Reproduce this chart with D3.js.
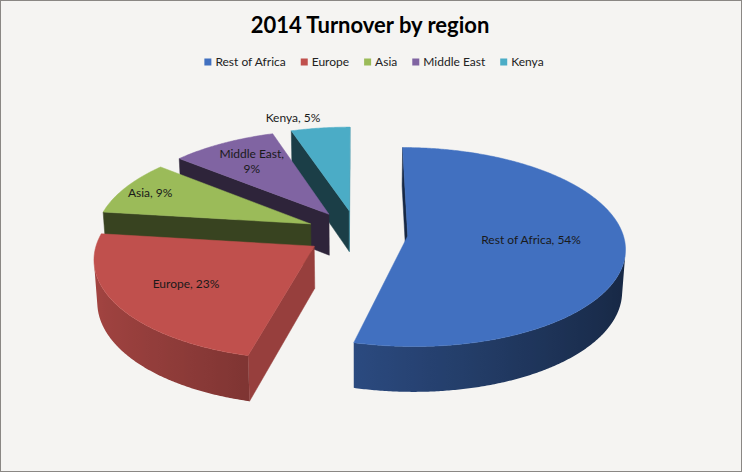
<!DOCTYPE html>
<html>
<head>
<meta charset="utf-8">
<script src="https://cdn.jsdelivr.net/npm/d3@7"></script>
<style>
  body { margin: 0; background: #ffffff; }
  text { font-family: Lato, "Open Sans", sans-serif; }
</style>
</head>
<body>
<div id="chart"></div>
<script>
// data
const regions = ["Rest of Africa", "Europe", "Asia", "Middle East", "Kenya"];
const shares = [54, 23, 9, 9, 5];
const colors = ["#4170c0", "#c0504d", "#9bbb59", "#8064a2", "#4bacc6"];
const title = "2014 Turnover by region";

// label placement: [radius along mid angle, dx, dy]
const labelAt = {
    "Rest of Africa": [0.57, 0, -3],
    "Europe": [0.68, 2, -3],
    "Asia": [0.84, -4, 0],
    "Middle East": [0.71, 0, -1],
    "Kenya": [1.25, -21, 8]
};
const wrapLabels = ["Middle East"];

const width = 744, height = 474;

const svg = d3.select("#chart").append("svg")
    .attr("width", width)
    .attr("height", height);
const defs = svg.append("defs");

svg.append("rect")
    .attr("x", 0.5).attr("y", 0.5)
    .attr("width", 741).attr("height", 471)
    .attr("fill", "#f5f4f2")
    .attr("stroke", "#8a8784")
    .attr("stroke-width", 1);

svg.append("text")
    .attr("x", 370).attr("y", 33)
    .attr("text-anchor", "middle")
    .attr("font-size", 22)
    .attr("font-weight", "bold")
    .attr("fill", "#000")
    .text(title);

// legend
let legend = svg.append("g");
let lx = 0;
regions.forEach((r, i) => {
    let g = legend.append("g").attr("transform", `translate(${lx},0)`);
    g.append("rect").attr("x", 0).attr("y", -7.5).attr("width", 7).attr("height", 7)
        .attr("fill", colors[i]);
    let t = g.append("text").attr("x", 11).attr("y", 0)
        .attr("font-size", 12).attr("fill", "#222").text(r);
    lx += 11 + t.node().getComputedTextLength() + 15;
});
lx -= 15;
legend.attr("transform", `translate(${374 - lx / 2},66)`);

// 3d projection
const alpha = 27 * Math.PI / 180, D = 8, F = 1720, cx = 357, cy = 233;
const R = 1, H = 0.22, explode = 0.237;
const camY = D * Math.sin(alpha), camZ = D * Math.cos(alpha);

function project(p) {
    let vy = p[1] - camY, vz = p[2] - camZ;
    let yc = vy * Math.cos(alpha) - vz * Math.sin(alpha);
    let zc = -vy * Math.sin(alpha) - vz * Math.cos(alpha);
    return [cx + F * p[0] / zc, cy - F * yc / zc, zc];
}
function facing(n, p) {
    return n[0] * (0 - p[0]) + n[1] * (camY - p[1]) + n[2] * (camZ - p[2]) > 0;
}
function shade(c, f) {
    let k = d3.rgb(c);
    return d3.rgb(k.r * f, k.g * f, k.b * f).formatHex();
}
const sideLight = t => Math.max(0.3, Math.min(0.9, 0.6 - 0.25 * Math.sin(t)));

const pie = d3.pie().sort(null).value(d => d);
const arcs = pie(shares);
const line = d3.line();
const xy = q => [q[0], q[1]];

let slices = arcs.map((a, i) => {
    let mid = (a.startAngle + a.endAngle) / 2;
    let o = [explode * Math.sin(mid), 0, -explode * Math.cos(mid)];
    let rim = (t, y) => [o[0] + R * Math.sin(t), y, o[2] - R * Math.cos(t)];
    let apex = y => [o[0], y, o[2]];
    let depth = project([o[0] + 0.5 * Math.sin(mid), 0, o[2] - 0.5 * Math.cos(mid)])[2];
    return {i, a, mid, o, rim, apex, depth};
});
slices.sort((s, t) => t.depth - s.depth);

const pieG = svg.append("g");
const step = Math.PI / 360;

slices.forEach(s => {
    let g = pieG.append("g");
    let c = colors[s.i];
    let t0 = s.a.startAngle, t1 = s.a.endAngle;
    let n = Math.max(2, Math.ceil((t1 - t0) / step));
    let ang = d3.range(n + 1).map(k => t0 + (t1 - t0) * k / n);

    // radial faces
    [[t0, -1], [t1, 1]].forEach(([t, sg]) => {
        let nrm = [sg * Math.cos(t), 0, sg * Math.sin(t)];
        if (!facing(nrm, s.rim(t, 0))) return;
        let f = 0.36 + 0.44 * Math.max(0, nrm[0]);
        let pts = [s.apex(0), s.rim(t, 0), s.rim(t, -H), s.apex(-H)].map(project);
        g.append("path").attr("d", line(pts.map(xy)) + "Z")
            .attr("fill", shade(c, f)).attr("stroke", shade(c, f)).attr("stroke-width", 0.5);
    });

    // outer curved side, visible part, one shape with a horizontal gradient
    let vis = ang.filter(t => facing([Math.sin(t), 0, -Math.cos(t)], s.rim(t, -H / 2)));
    if (vis.length > 1) {
        let topPts = vis.map(t => project(s.rim(t, 0)));
        let botPts = vis.map(t => project(s.rim(t, -H))).reverse();
        let xs = topPts.map(q => q[0]);
        let x0 = d3.min(xs), x1 = d3.max(xs);
        let gid = "side" + s.i;
        let grad = defs.append("linearGradient").attr("id", gid)
            .attr("gradientUnits", "userSpaceOnUse")
            .attr("x1", x0).attr("x2", x1).attr("y1", 0).attr("y2", 0);
        let stops = vis.map((t, k) => ({off: (xs[k] - x0) / (x1 - x0 || 1), col: shade(c, sideLight(t))}))
            .sort((a, b) => a.off - b.off);
        stops.filter((d, k) => k % 4 === 0 || k === stops.length - 1).forEach(d => {
            grad.append("stop").attr("offset", d.off).attr("stop-color", d.col);
        });
        g.append("path").attr("d", line(topPts.concat(botPts).map(xy)) + "Z")
            .attr("fill", `url(#${gid})`);
    }

    // top face
    let top = [s.apex(0)].concat(ang.map(t => s.rim(t, 0)));
    g.append("path").attr("d", line(top.map(project).map(xy)) + "Z")
        .attr("fill", c).attr("stroke", c).attr("stroke-width", 0.5);
});

// data labels
slices.forEach(s => {
    let name = regions[s.i];
    let [r, dx, dy] = labelAt[name];
    let p = project([s.o[0] + r * Math.sin(s.mid), 0, s.o[2] - r * Math.cos(s.mid)]);
    let lines = wrapLabels.includes(name) ? [name + ",", shares[s.i] + "%"] : [name + ", " + shares[s.i] + "%"];
    let t = svg.append("text")
        .attr("text-anchor", "middle")
        .attr("font-size", 12)
        .attr("fill", "#1a1a1a");
    lines.forEach((l, j) => {
        t.append("tspan")
            .attr("x", p[0] + dx)
            .attr("y", p[1] + dy + (j - (lines.length - 1) / 2) * 15)
            .attr("dy", "0.35em")
            .text(l);
    });
});
</script>
</body>
</html>
